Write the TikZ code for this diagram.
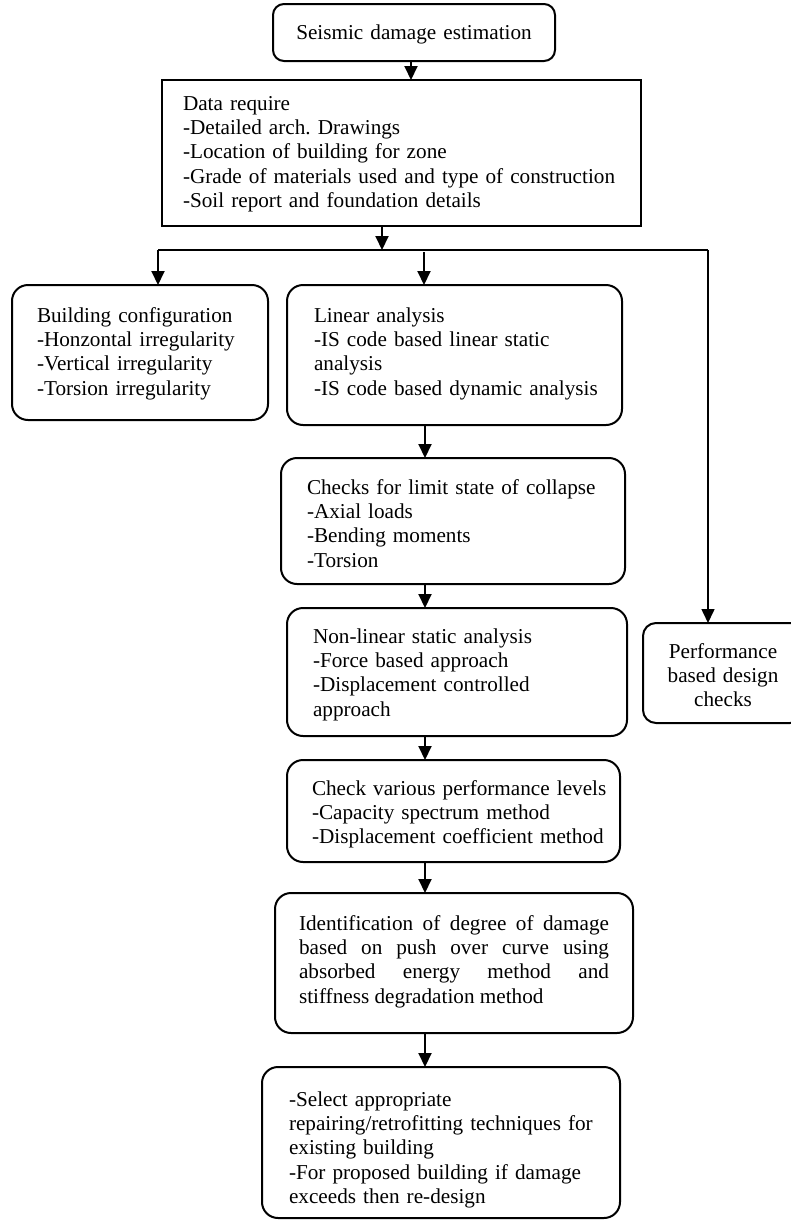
\documentclass[tikz,border=0pt]{standalone}
\usepackage{fontspec}
\setmainfont{Liberation Serif}
\usetikzlibrary{arrows.meta}
\frenchspacing
\newcommand\boxfont{\fontsize{21.2}{24.4}\selectfont}
\newcommand\oneline[1]{\mbox{#1}}
\begin{document}
\begin{tikzpicture}[x=1pt,y=-1pt,
  box/.style={draw, line width=2pt, rounded corners=16pt, anchor=north west,
    inner ysep=0pt, outer sep=0pt, align=left, font=\boxfont},
  arr/.style={line width=2pt, -{Triangle[length=14pt,width=13pt]}},
  thinline/.style={line width=1.3pt}]
\useasboundingbox (0,0) rectangle (791,1221);

\node[box, rounded corners=11pt, align=center, text width=262pt, inner xsep=10pt,
  text height=35pt, text depth=22pt] (tb) at (273,4) {Seismic damage estimation};

\node[box, rounded corners=0pt, text width=437pt, inner xsep=21pt,
  text height=30pt, text depth=116pt] (db) at (162,80)
  {\oneline{Data require}\\\oneline{-Detailed arch. Drawings}\\\oneline{-Location of building for zone}\\\oneline{-Grade of materials used and type of construction}\\\oneline{-Soil report and foundation details}};

\node[box, text width=206pt, inner xsep=25pt, text height=37pt, text depth=98pt] (bc) at (12,285)
  {\oneline{Building configuration}\\\oneline{-Honzontal irregularity}\\\oneline{-Vertical irregularity}\\\oneline{-Torsion irregularity}};

\node[box, text width=281pt, inner xsep=27pt, text height=37pt, text depth=103pt] (la) at (287,285)
  {\oneline{Linear analysis}\\\oneline{-IS code based linear static}\\\oneline{analysis}\\\oneline{-IS code based dynamic analysis}};

\node[box, text width=292pt, inner xsep=26pt, text height=36pt, text depth=90pt] (ck) at (281,458)
  {\oneline{Checks for limit state of collapse}\\\oneline{-Axial loads}\\\oneline{-Bending moments}\\\oneline{-Torsion}};

\node[box, text width=288pt, inner xsep=26pt, text height=35pt, text depth=93pt] (nl) at (287,608)
  {\oneline{Non-linear static analysis}\\\oneline{-Force based approach}\\\oneline{-Displacement controlled}\\\oneline{approach}};

\node[box, rounded corners=13pt, align=center, text width=140pt, inner xsep=10pt,
  text height=35pt, text depth=65pt] (pf) at (643,623)
  {Performance\\based design\\checks};

\node[box, text width=283pt, inner xsep=25pt, text height=35pt, text depth=67pt] (cv) at (287,760)
  {\oneline{Check various performance levels}\\\oneline{-Capacity spectrum method}\\\oneline{-Displacement coefficient method}};

\node[box, align=justify, text width=310pt, inner xsep=24pt, text height=37pt, text depth=103pt] (id) at (275,893)
  {Identification of degree of damage\linebreak based on push over curve using\linebreak absorbed energy method and\linebreak stiffness degradation method};

\node[box, text width=304pt, inner xsep=27pt, text height=39pt, text depth=112pt] (sl) at (262,1067)
  {\oneline{-Select appropriate}\\\oneline{repairing/retrofitting techniques for}\\\oneline{existing building}\\\oneline{-For proposed building if damage}\\\oneline{exceeds then re-design}};

% connector helpers
\coordinate (ax0) at (411,0);
\coordinate (ax) at (425,0);
\coordinate (J) at (382,250);
\coordinate (HL) at (158,250);
\coordinate (HR) at (708,250);
\coordinate (JM) at (424,252);

\draw[arr] (tb.south -| ax0) -- (db.north -| ax0);
\draw[arr] (db.south -| J) -- (J);
\draw[thinline] (HL) -- (HR);
\draw[arr] (HL) -- (HL |- bc.north);
\draw[arr] (JM) -- (JM |- la.north);
\draw[arr, line width=1.6pt] (HR) -- (HR |- pf.north);
\draw[arr] (la.south -| ax) -- (ck.north -| ax);
\draw[arr] (ck.south -| ax) -- (nl.north -| ax);
\draw[arr] (nl.south -| ax) -- (cv.north -| ax);
\draw[arr] (cv.south -| ax) -- (id.north -| ax);
\draw[arr] (id.south -| ax) -- (sl.north -| ax);
\end{tikzpicture}
\end{document}
